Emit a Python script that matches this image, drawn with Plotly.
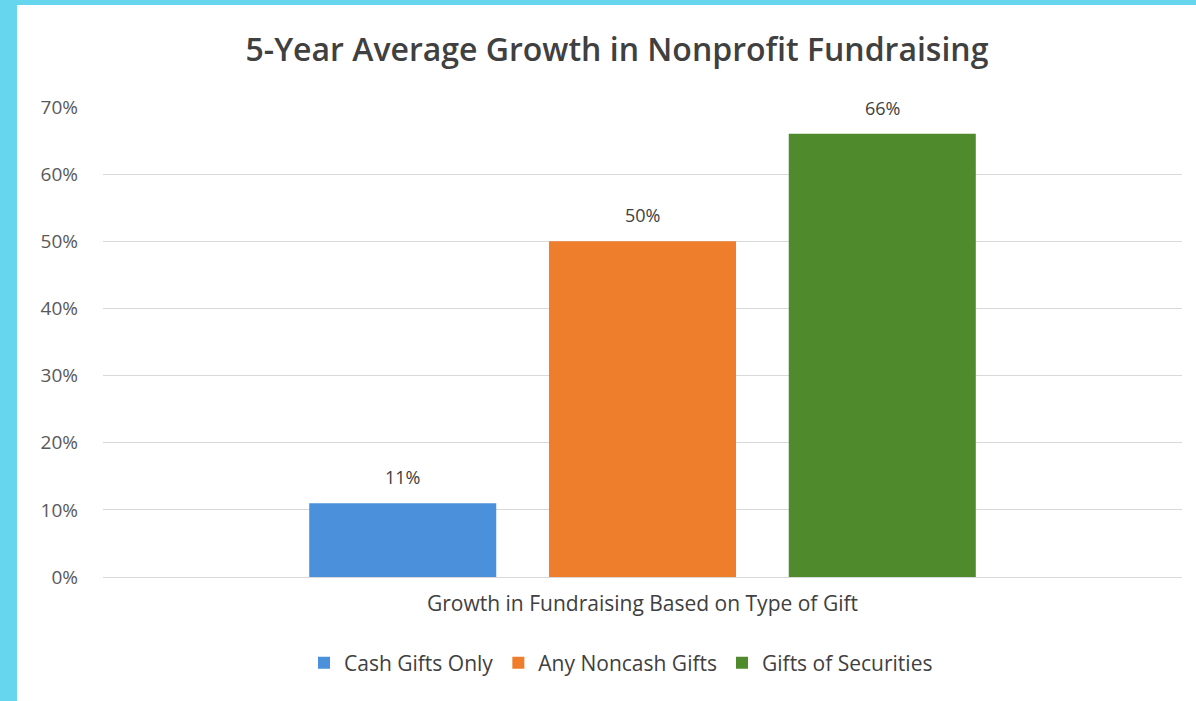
import plotly.graph_objects as go

categories = ["Cash Gifts Only", "Any Noncash Gifts", "Gifts of Securities"]
values = [0.11, 0.50, 0.66]
labels = ["11%", "50%", "66%"]
colors = ["#4A90DA", "#EE7D2C", "#4F8A2D"]
y_ticks = [0, 0.1, 0.2, 0.3, 0.4, 0.5, 0.6, 0.7]
y_tick_text = ["0%", "10%", "20%", "30%", "40%", "50%", "60%", "70%"]

W, H = 1196, 701
L, R, T, B = 103, 14, 107, 124
pw, ph = W - L - R, H - T - B
FONT = "Open Sans"

fig = go.Figure()
for c, v, col in zip(categories, values, colors):
    fig.add_trace(go.Bar(x=[c], y=[v], name=c, marker=dict(color=col, line=dict(width=0)),
                         width=0.78, hoverinfo="skip"))

for c, v, lab in zip(categories, values, labels):
    fig.add_annotation(x=c, y=v, text=lab, showarrow=False, yanchor="middle", yshift=26,
                       font=dict(family=FONT, size=18, color="#404040"))

fig.update_layout(
    width=W, height=H,
    margin=dict(l=L, r=R, t=T, b=B),
    paper_bgcolor="white", plot_bgcolor="white",
    barmode="overlay",
    title=dict(text="5-Year Average Growth in Nonprofit Fundraising", x=(617 - L) / pw, xref="paper",
               xanchor="center", y=1 - 50 / H, yanchor="middle",
               font=dict(family=FONT, size=32, color="#404040", weight=600)),
    xaxis=dict(range=[-1.25, 3.25], showticklabels=False, showgrid=False, zeroline=False,
               showline=False, ticks="",
               title=dict(text="Growth in Fundraising Based on Type of Gift", standoff=19,
                          font=dict(family=FONT, size=21, color="#404040"))),
    yaxis=dict(range=[0, 0.7], tickvals=y_ticks, ticktext=y_tick_text, showgrid=True,
               gridcolor="#D9D9D9", gridwidth=1, zeroline=True, zerolinecolor="#D9D9D9",
               zerolinewidth=1, ticks="", ticklabelstandoff=24,
               tickfont=dict(family=FONT, size=19, color="#595959")),
    legend=dict(orientation="h", x=(621 - L) / pw, xanchor="center", y=(577 - 663) / ph,
                yanchor="middle", font=dict(family=FONT, size=21, color="#404040"),
                itemwidth=30, traceorder="normal"),
    showlegend=True,
)

# cyan border strips (left and top)
fig.add_shape(type="rect", xref="paper", yref="paper", layer="above",
              x0=(0 - L) / pw, x1=(17 - L) / pw, y0=-(B + 5) / ph, y1=(ph + T + 5) / ph,
              line=dict(width=0), fillcolor="#66D6EE")
fig.add_shape(type="rect", xref="paper", yref="paper", layer="above",
              x0=(0 - L) / pw, x1=(W + 5 - L) / pw, y0=(ph + T - 5) / ph, y1=(ph + T + 5) / ph,
              line=dict(width=0), fillcolor="#66D6EE")

fig.write_html("out.html")
